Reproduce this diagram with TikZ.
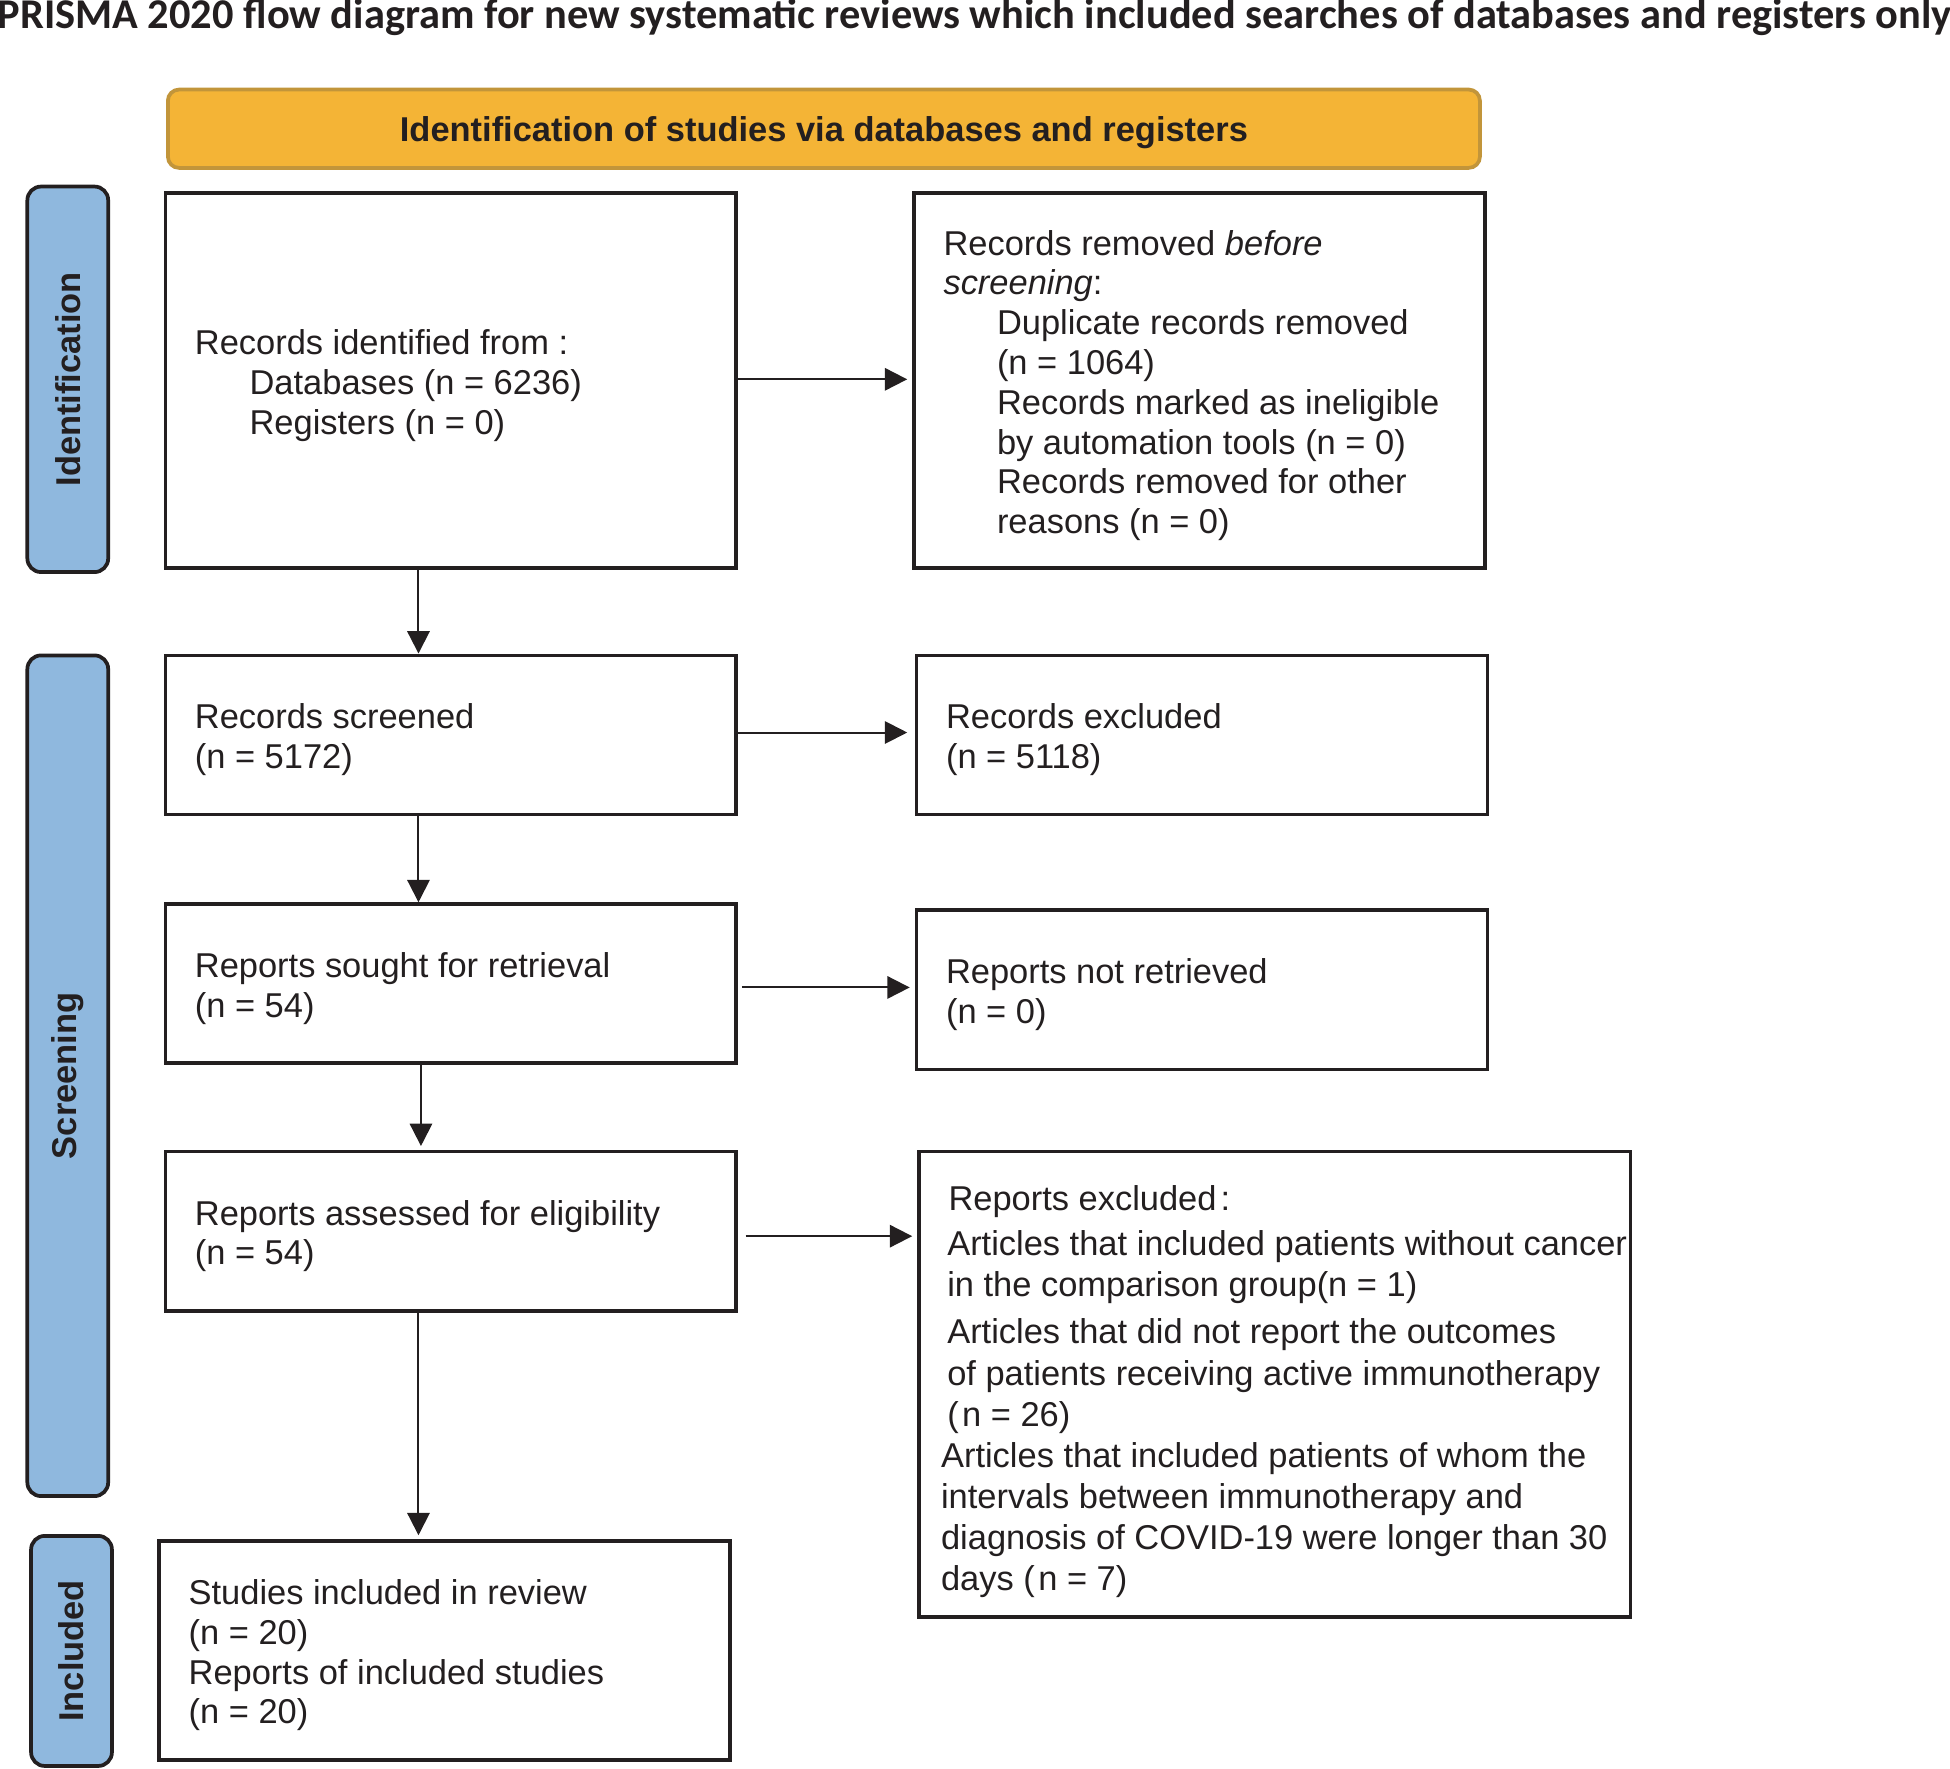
\documentclass[tikz,border=0pt]{standalone}
\usepackage{fontspec}
\setmainfont{Liberation Sans}
\newfontfamily\titlefont{Carlito}
\usetikzlibrary{arrows.meta,calc}
\definecolor{hdrfill}{HTML}{F4B436}
\definecolor{hdrdraw}{HTML}{C2953A}
\definecolor{barfill}{HTML}{8FB8DE}
\definecolor{ink}{HTML}{231F20}
\begin{document}
\begin{tikzpicture}[x=1pt,y=-1pt,
  box/.style={draw=ink, line width=3pt, fill=white, rectangle, inner sep=0pt},
  hdr/.style={draw=hdrdraw, line width=3pt, fill=hdrfill, rounded corners=9pt, inner sep=0pt},
  hdrtxt/.style={inner sep=0pt, font=\fontsize{27.7pt}{32pt}\selectfont\bfseries, text=ink},
  sidebar/.style={draw=ink, line width=3pt, fill=barfill, rounded corners=11pt, inner sep=0pt,
    rotate=90, font=\fontsize{27.7pt}{32pt}\selectfont\bfseries, text=ink},
  txt/.style={anchor=west, align=left, inner sep=0pt, text=ink,
    font=\fontsize{27.7pt}{32pt}\selectfont},
  arr/.style={draw=ink, line width=1.6pt, -{Triangle[length=18pt,width=18pt]}}
]
\useasboundingbox (0,0) rectangle (1568,1422.4);

% title
\node[anchor=base west, inner sep=0pt, font=\titlefont\fontsize{34.1pt}{36pt}\selectfont\bfseries, text=ink]
  (title) at (-2,23) {PRISMA 2020 flow diagram for new systematic reviews which included searches of databases and registers only};

% header
\node[hdr, minimum width=1055pt, minimum height=63pt] (head) at (662.5,103.5) {};
\node[hdrtxt] (headtxt) at ([yshift=-3pt]head.center)
  {Identification of studies via databases and registers};

% side bars
\node[sidebar, minimum width=310pt, minimum height=65pt] (sid) at (54.5,305) {Identification};
\node[sidebar, minimum width=676pt, minimum height=65pt] (sscr) at (54.5,865) {Screening};
\node[sidebar, minimum width=185pt, minimum height=65pt] (sinc) at (57.5,1327.5) {Included};

% boxes
\node[box, minimum width=459pt, minimum height=302pt] (b1) at (362.5,306) {};
\node[box, minimum width=459pt, minimum height=302pt] (b2) at (964.5,306) {};
\node[box, minimum width=459pt, minimum height=128pt] (b3) at (362.5,591) {};
\node[box, minimum width=459pt, minimum height=128pt] (b4) at (966.5,591) {};
\node[box, minimum width=459pt, minimum height=128pt] (b5) at (362.5,791) {};
\node[box, minimum width=459pt, minimum height=128pt] (b6) at (966.5,796) {};
\node[box, minimum width=459pt, minimum height=128pt] (b7) at (362.5,990) {};
\node[box, minimum width=572pt, minimum height=374pt] (b8) at (1025,1113) {};
\node[box, minimum width=459pt, minimum height=176pt] (b9) at (357.5,1327) {};

% texts
\node[txt] (t1) at ([xshift=25pt,yshift=-4pt]b1.west)
  {Records identified from :\\ \hspace*{44pt}Databases (n = 6236)\\ \hspace*{44pt}Registers (n = 0)};
\node[txt] (t2) at ([xshift=25pt,yshift=-4pt]b2.west)
  {Records removed \textit{before}\\ \textit{screening}:\\
   \hspace*{43pt}Duplicate records removed\\ \hspace*{43pt}(n = 1064)\\
   \hspace*{43pt}Records marked as ineligible\\ \hspace*{43pt}by automation tools (n = 0)\\
   \hspace*{43pt}Records removed for other\\ \hspace*{43pt}reasons (n = 0)};
\node[txt] (t3) at ([xshift=25pt,yshift=-4pt]b3.west) {Records screened\\(n = 5172)};
\node[txt] (t4) at ([xshift=25pt,yshift=-4pt]b4.west) {Records excluded\\(n = 5118)};
\node[txt] (t5) at ([xshift=25pt,yshift=-4pt]b5.west) {Reports sought for retrieval\\(n = 54)};
\node[txt] (t6) at ([xshift=25pt,yshift=-4pt]b6.west) {Reports not retrieved\\(n = 0)};
\node[txt] (t7) at ([xshift=25pt,yshift=-4pt]b7.west) {Reports assessed for eligibility\\(n = 54)};
\node[txt, font=\fontsize{27.7pt}{33pt}\selectfont] (t8) at ([xshift=24pt,yshift=-6pt]b8.west)
  {\hspace*{1pt}Reports excluded\hspace{0.12em}:\\[3pt]
   Articles that included patients without cancer\\
   in the comparison group(n = 1)\\[5pt]
   Articles that did not report the outcomes\\
   of patients receiving active immunotherapy\\
   (\hspace{0.1em}n = 26)\\
   \hspace*{-5pt}Articles that included patients of whom the\\
   \hspace*{-5pt}intervals between immunotherapy and\\
   \hspace*{-5pt}diagnosis of COVID-19 were longer than 30\\
   \hspace*{-5pt}days (\hspace{0.1em}n = 7)};
\node[txt] (t9) at ([xshift=25pt,yshift=-4pt]b9.west)
  {Studies included in review\\(n = 20)\\Reports of included studies\\(n = 20)};

% vertical arrows
\draw[arr] ([xshift=205pt]b1.south west) -- ([xshift=205pt]b3.north west);
\draw[arr] ([xshift=205pt]b3.south west) -- ([xshift=205pt]b5.north west);
\draw[arr] ([xshift=207pt]b5.south west) -- ([xshift=207pt,yshift=3pt]b7.north west);
\draw[arr] ([xshift=205pt]b7.south west) -- ([xshift=210pt,yshift=3pt]b9.north west);

% horizontal arrows
\draw[arr] ([yshift=1pt]b1.east) -- ([yshift=1pt,xshift=-4pt]b1.east -| b2.west);
\draw[arr] ([yshift=2pt]b3.east) -- ([yshift=2pt,xshift=-6pt]b3.east -| b4.west);
\draw[arr] ([yshift=-3pt,xshift=3pt]b5.east) -- ([yshift=-3pt,xshift=-4pt]b5.east -| b6.west);
\draw[arr] ([yshift=-4pt,xshift=6pt]b7.east) -- ([yshift=-4pt,xshift=-4pt]b7.east -| b8.west);
\end{tikzpicture}
\end{document}
